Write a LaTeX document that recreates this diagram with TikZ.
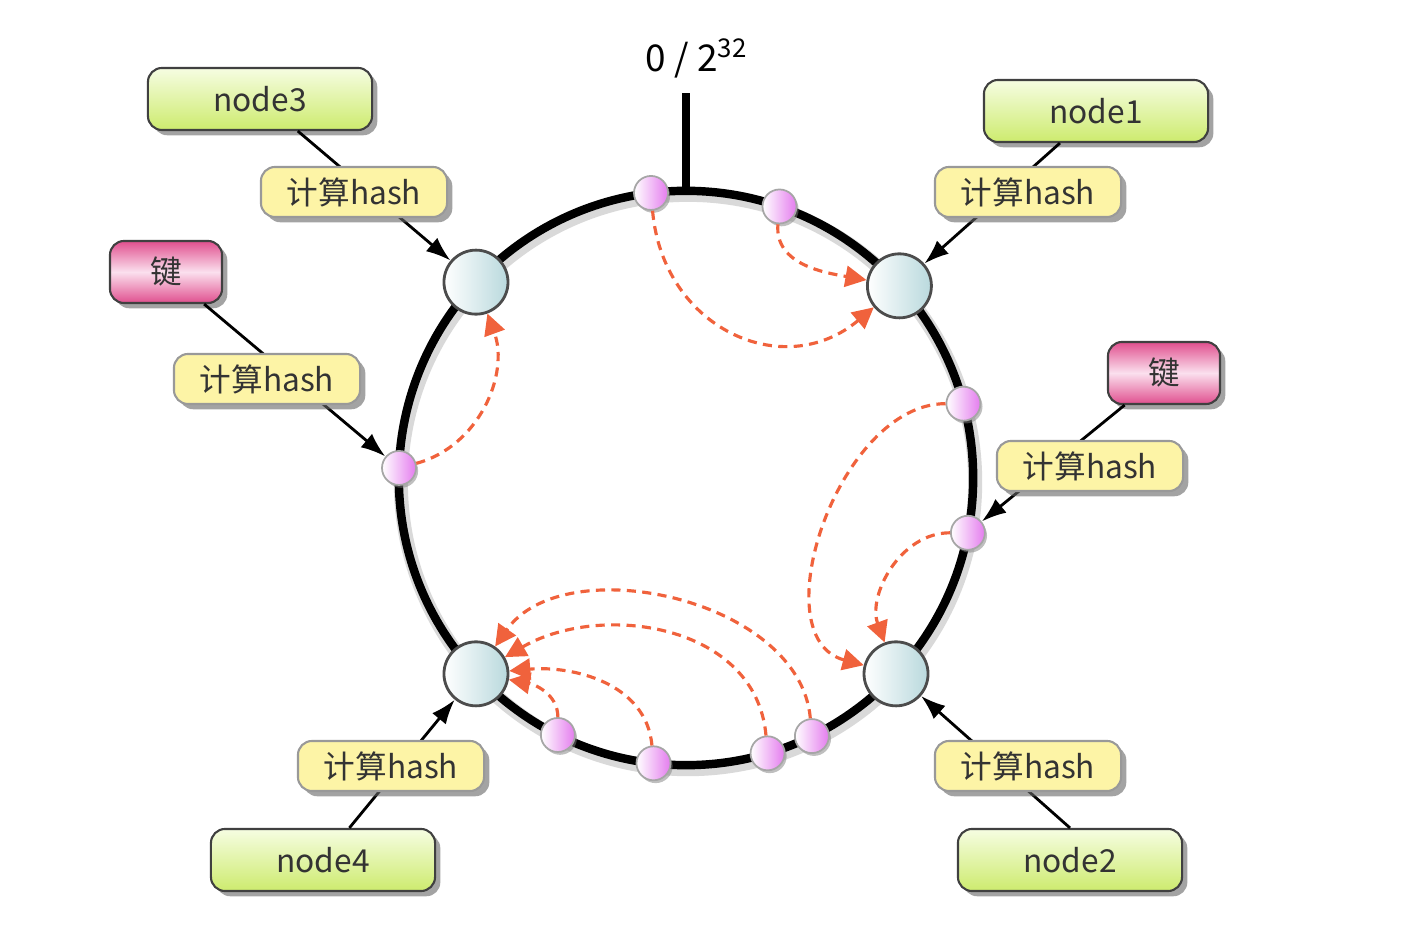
\documentclass[tikz,border=0pt]{standalone}
\usepackage{fontspec}
\setmainfont{Noto Sans CJK SC}
\usetikzlibrary{arrows.meta,shadows}

\definecolor{greentop}{HTML}{F6FDE2}
\definecolor{greenbot}{HTML}{CDEB6E}
\definecolor{pinkedge}{HTML}{E04F8E}
\definecolor{pinkmid}{HTML}{FBE0EE}
\definecolor{hashfill}{HTML}{FDF4A6}
\definecolor{ringteal}{HTML}{B9D9DD}
\definecolor{keyviolet}{HTML}{E47CEE}
\definecolor{maplink}{HTML}{F0623C}

\tikzset{
  box/.style={rounded corners=4pt, draw=black!75, line width=0.6pt, inner sep=0pt,
    text=black!80, font=\fontsize{9}{11}\selectfont,
    drop shadow={shadow xshift=1.5pt, shadow yshift=-1.5pt, fill=black!60, opacity=0.6}},
  nodebox/.style={box, minimum width=2.24cm, minimum height=0.62cm,
    top color=greentop, bottom color=greenbot},
  keybox/.style={box, minimum width=1.12cm, minimum height=0.62cm,
    top color=pinkedge, bottom color=pinkedge, middle color=pinkmid},
  hashbox/.style={box, draw=black!40, fill=hashfill, minimum width=1.86cm, minimum height=0.5cm},
  server/.style={circle, draw=black!70, line width=0.8pt, minimum size=0.64cm, inner sep=0pt,
    left color=white, right color=ringteal},
  keypt/.style={circle, draw=black!35, line width=0.5pt, minimum size=0.34cm, inner sep=0pt,
    left color=white, right color=keyviolet,
    drop shadow={shadow xshift=0.6pt, shadow yshift=-0.8pt, fill=black!50, opacity=0.5}},
  feed/.style={line width=0.8pt, black, -{Latex[length=7pt, width=5pt]}},
  maparrow/.style={maplink, line width=0.9pt, dash pattern=on 2.6pt off 1.8pt,
    -{Triangle[length=6pt, width=6pt]}},
}

\begin{document}
\begin{tikzpicture}[x=0.01cm, y=-0.01cm]
	\useasboundingbox (0,0) rectangle (1418,928);

	\coordinate (c) at (686,478);
	\coordinate (zeropt) at (686,191);
	\coordinate (ticktop) at (686,93);

	\draw[line width=4pt, black!15] ([shift={(2,4)}]c) circle[radius=2.87cm];
	\draw[line width=2.4pt] (c) circle[radius=2.87cm];
	\draw[line width=2.4pt] (zeropt) -- (ticktop);
	\node[font=\fontsize{10.5}{12}\selectfont] (zero) at (697,58) {0 / 2\textsuperscript{32}};

	\node[server] (n1) at ([shift={(42:2.87cm)}]c) {};
	\node[server] (n3) at ([shift={(137:2.87cm)}]c) {};
	\node[server] (n4) at ([shift={(223:2.87cm)}]c) {};
	\node[server] (n2) at ([shift={(317:2.87cm)}]c) {};

	\node[keypt] (k97) at ([shift={(97:2.87cm)}]c) {};
	\node[keypt] (k71) at ([shift={(71:2.87cm)}]c) {};
	\node[keypt] (k15) at ([shift={(15:2.87cm)}]c) {};
	\node[keypt] (k349) at ([shift={(349:2.87cm)}]c) {};
	\node[keypt] (k178) at ([shift={(178:2.87cm)}]c) {};
	\node[keypt] (k243) at ([shift={(243.5:2.87cm)}]c) {};
	\node[keypt] (k263) at ([shift={(263.5:2.87cm)}]c) {};
	\node[keypt] (k287) at ([shift={(286.5:2.87cm)}]c) {};
	\node[keypt] (k296) at ([shift={(296:2.87cm)}]c) {};

	\node[nodebox] (node3) at (260,99) {node3};
	\node[nodebox] (node1) at (1096,111) {node1};
	\node[nodebox] (node4) at (323,860) {node4};
	\node[nodebox] (node2) at (1070,860) {node2};
	\node[keybox] (keyl) at (166,272) {键};
	\node[keybox] (keyr) at (1164,373) {键};

	\draw[feed] (node3) -- (n3);
	\draw[feed] (node1) -- (n1);
	\draw[feed] (node4) -- (n4);
	\draw[feed] (node2.north) -- (n2);
	\draw[feed] (keyl) -- (k178);
	\draw[feed] (keyr) -- (k349);

	\node[hashbox] (h3) at (354,192) {计算hash};
	\node[hashbox] (h1) at (1028,192) {计算hash};
	\node[hashbox] (h4) at (391,766) {计算hash};
	\node[hashbox] (h2) at (1028,766) {计算hash};
	\node[hashbox] (hl) at (267,379) {计算hash};
	\node[hashbox] (hr) at (1090,466) {计算hash};

	\draw[maparrow] (k97) to[out=-85, in=-140, looseness=1.25] (n1);
	\draw[maparrow] (k71) to[out=-95, in=170] (n1);
	\draw[maparrow] (k178) to[out=15, in=-70] (n3);
	\draw[maparrow] (k15) to[out=180, in=165] (n2);
	\draw[maparrow] (k349) to[out=180, in=110] (n2);
	\draw[maparrow] (k296) to[out=95, in=55, looseness=0.95] (n4);
	\draw[maparrow] (k287) to[out=95, in=30, looseness=1.05] (n4);
	\draw[maparrow] (k263) to[out=95, in=5] (n4);
	\draw[maparrow] (k243) to[out=90, in=-10] (n4);
\end{tikzpicture}
\end{document}
